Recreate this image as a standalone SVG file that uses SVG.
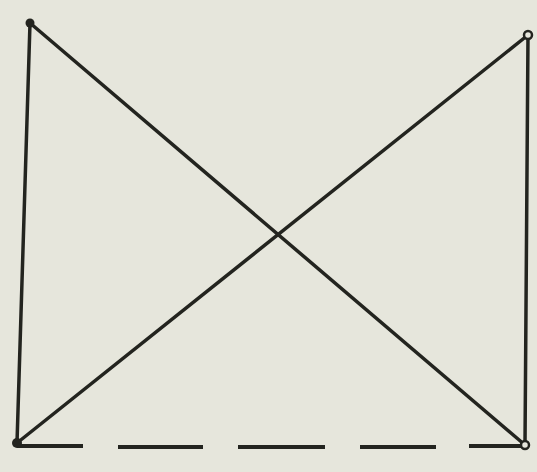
<svg xmlns="http://www.w3.org/2000/svg" width="537" height="472" viewBox="0 0 537 472">
  <style>
    .ln { stroke: #23241f; stroke-width: 3.5; stroke-linecap: round; fill: none; }
    .dash { stroke: #23241f; stroke-width: 4; stroke-linecap: butt; fill: none; }
    .pt { fill: #23241f; }
    .pto { fill: #e6e6dc; stroke: #23241f; stroke-width: 2.5; }
  </style>
  <rect width="537" height="472" fill="#e6e6dc"/>
  <g id="connectors">
    <line class="ln" x1="30" y1="23" x2="17" y2="443"/>
    <line class="ln" x1="528" y1="35" x2="525" y2="445"/>
    <line class="ln" x1="30" y1="23" x2="525" y2="445"/>
    <line class="ln" x1="528" y1="35" x2="17" y2="443"/>
    <path class="dash" d="M17 446 L83 446 M118 447 L203 447 M238 447 L325 447 M360 447 L436 447 M469 446 L524 446"/>
  </g>
  <g id="node-top-left"><circle class="pt" cx="30" cy="23" r="4.5"/></g>
  <g id="node-top-right"><circle class="pto" cx="528" cy="35" r="4"/></g>
  <g id="node-bottom-left"><circle class="pt" cx="17" cy="443" r="5"/></g>
  <g id="node-bottom-right"><circle class="pto" cx="525" cy="445" r="4"/></g>
</svg>
